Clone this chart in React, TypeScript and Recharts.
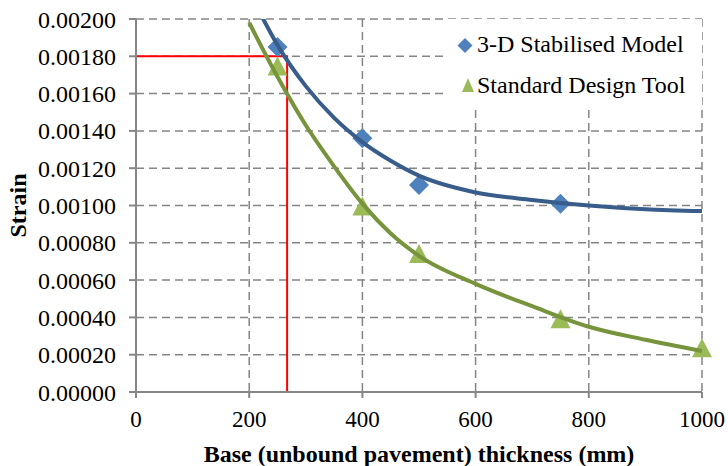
import React from "react";
import {
  ComposedChart,
  Line,
  Scatter,
  XAxis,
  YAxis,
  CartesianGrid,
  Label,
} from "recharts";

// measured points
const stabilisedThickness = [250, 400, 500, 750];
const stabilisedStrain = [0.00185, 0.00136, 0.00111, 0.00101];
const designThickness = [250, 400, 500, 750, 1000];
const designStrain = [0.001745, 0.000995, 0.00074, 0.00039, 0.000235];

// trend curves
const stabilisedTrendX = [223, 250, 300, 350, 400, 450, 500, 600, 700, 800, 900, 1000];
const stabilisedTrendY = [0.00201, 0.00186, 0.00164, 0.00147, 0.00134, 0.00124, 0.00116, 0.00107, 0.00103, 0.001, 0.00098, 0.00097];
const designTrendX = [200, 250, 300, 350, 400, 450, 500, 600, 700, 800, 900, 1000];
const designTrendY = [0.00198, 0.00169, 0.00143, 0.00121, 0.00101, 0.00085, 0.00073, 0.00058, 0.00046, 0.00035, 0.00028, 0.00022];

// red design guide
const guideX = [0, 267, 267];
const guideY = [0.0018, 0.0018, 0];

const xTicks = [0, 200, 400, 600, 800, 1000];
const yTicks = [0, 0.0002, 0.0004, 0.0006, 0.0008, 0.001, 0.0012, 0.0014, 0.0016, 0.0018, 0.002];
const seriesNames = ["3-D Stabilised Model", "Standard Design Tool"];

const zip = (xs: number[], ys: number[]) => xs.map((x, i) => ({ x, y: ys[i] }));

const FONT = "'Liberation Serif', 'Times New Roman', serif";
const AXIS = "#868686";
const BLUE = "#4F81BD";
const BLUE_LINE = "#385D8A";
const GREEN = "#9BBB59";
const GREEN_LINE = "#77933C";

const Diamond = (props: any) => {
  const { cx, cy } = props;
  const r = 10;
  return <polygon points={`${cx},${cy - r} ${cx + r},${cy} ${cx},${cy + r} ${cx - r},${cy}`} fill={BLUE} />;
};

const Triangle = (props: any) => {
  const { cx, cy } = props;
  return <polygon points={`${cx},${cy - 10} ${cx + 10},${cy + 9} ${cx - 10},${cy + 9}`} fill={GREEN} />;
};

const LegendBox = () => (
  <svg
    width={255}
    height={86}
    style={{ position: "absolute", left: 447, top: 19, display: "block", background: "#fff" }}
  >
    <polygon points="18,19 25.5,26.5 18,34 10.5,26.5" fill={BLUE} />
    <text x={30} y={33} fontFamily={FONT} fontSize={24} fill="#000">
      {seriesNames[0]}
    </text>
    <polygon points="21,59 27,73 15,73" fill={GREEN} />
    <text x={30} y={74} fontFamily={FONT} fontSize={24} fill="#000">
      {seriesNames[1]}
    </text>
  </svg>
);

const YTitle = (props: any) => {
  const vb = props.viewBox || { y: 19, height: 373 };
  const cx = 18;
  const cy = vb.y + vb.height / 2;
  return (
    <text
      x={cx}
      y={cy}
      transform={`rotate(-90 ${cx} ${cy})`}
      textAnchor="middle"
      dominantBaseline="central"
      fontFamily={FONT}
      fontSize={24}
      fontWeight="bold"
      fill="#000"
    >
      Strain
    </text>
  );
};

const XTitle = (props: any) => {
  const vb = props.viewBox || { x: 136, width: 566 };
  const cx = vb.x + vb.width / 2;
  return (
    <text x={cx} y={462} textAnchor="middle" fontFamily={FONT} fontSize={24} fontWeight="bold" fill="#000">
      Base (unbound pavement) thickness (mm)
    </text>
  );
};

export default function App() {
  return (
    <div style={{ width: 728, height: 466, position: "relative", background: "#fff", fontFamily: FONT }}>
      <style>{"body{margin:0}"}</style>
      <ComposedChart
        width={728}
        height={466}
        margin={{ top: 19, right: 26, bottom: 0, left: 0 }}
        style={{ fontFamily: FONT }}
      >
        <CartesianGrid
          stroke="#858585"
          strokeWidth={1.5}
          strokeDasharray="8 5"
          horizontalValues={yTicks}
          verticalValues={xTicks}
        />
        <XAxis
          type="number"
          dataKey="x"
          domain={[0, 1000]}
          ticks={xTicks}
          interval={0}
          height={74}
          stroke={AXIS}
          axisLine={{ stroke: AXIS, strokeWidth: 2 }}
          tickLine={{ stroke: AXIS, strokeWidth: 2 }}
          tickSize={6}
          tickMargin={13}
          tick={{ fill: "#000", fontFamily: FONT, fontSize: 23 }}
        >
          <Label content={<XTitle />} />
        </XAxis>
        <YAxis
          type="number"
          dataKey="y"
          domain={[0, 0.002]}
          ticks={yTicks}
          interval={0}
          allowDataOverflow
          width={136}
          stroke={AXIS}
          axisLine={{ stroke: AXIS, strokeWidth: 2 }}
          tickLine={{ stroke: AXIS, strokeWidth: 2 }}
          tickSize={7}
          tickMargin={13}
          tickFormatter={(v: number) => v.toFixed(5)}
          tick={{ fill: "#000", fontFamily: FONT, fontSize: 24 }}
        >
          <Label content={<YTitle />} />
        </YAxis>
        <Line
          data={zip(guideX, guideY)}
          dataKey="y"
          type="linear"
          stroke="#FF0000"
          strokeWidth={2}
          dot={false}
          activeDot={false}
          isAnimationActive={false}
        />
        <Scatter
          data={zip(stabilisedThickness, stabilisedStrain)}
          dataKey="y"
          shape={<Diamond />}
          isAnimationActive={false}
        />
        <Scatter
          data={zip(designThickness, designStrain)}
          dataKey="y"
          shape={<Triangle />}
          isAnimationActive={false}
        />
        <Line
          data={zip(stabilisedTrendX, stabilisedTrendY)}
          dataKey="y"
          type="monotone"
          stroke={BLUE_LINE}
          strokeWidth={4}
          dot={false}
          activeDot={false}
          zIndex={700}
          isAnimationActive={false}
        />
        <Line
          data={zip(designTrendX, designTrendY)}
          dataKey="y"
          type="monotone"
          stroke={GREEN_LINE}
          strokeWidth={4}
          dot={false}
          activeDot={false}
          zIndex={700}
          isAnimationActive={false}
        />
      </ComposedChart>
      <LegendBox />
    </div>
  );
}
